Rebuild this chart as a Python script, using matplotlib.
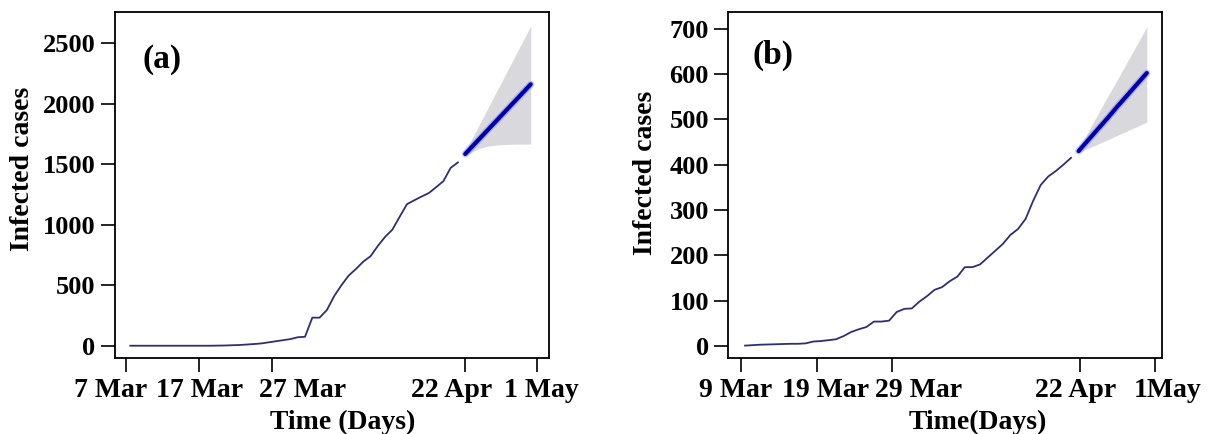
import numpy as np
import matplotlib
matplotlib.use('Agg')
from matplotlib import pyplot as plt

plt.rcParams['font.family'] = ['Liberation Serif', 'DejaVu Serif']
plt.rcParams['font.weight'] = 'bold'

# ---- panel (a) ----
obs_a = [0, 0, 0, 0, 0, 0, 0, 0, 0, 0, 0, 0, 1, 2, 4, 6, 10, 14, 19, 28,
         37, 46, 55, 70, 74, 232, 232, 295, 410, 500, 580, 635, 695, 740, 825, 900,
         960, 1066, 1170, 1202, 1233, 1262, 1310, 1360, 1470, 1515]
fc_a = [1585, 1649, 1713, 1777, 1841, 1905, 1969, 2033, 2097, 2161]
fc_a_hi = [1604, 1720, 1835, 1950, 2066, 2181, 2297, 2412, 2528, 2643]
fc_a_lo = [1563, 1605, 1632, 1648, 1657, 1662, 1665, 1667, 1667, 1667]
ticks_a = [0.4, 10.4, 20.4, 47.0, 56.9]
labels_a = ['7 Mar', '17 Mar', '27 Mar', '22 Apr', '1 May']
labelpos_a = [-1.66, 10.56, 24.6, 45.1, 57.4]   # labels sit off their ticks in the original
yticks_a = [0, 500, 1000, 1500, 2000, 2500]

# ---- panel (b) ----
obs_b = [1, 2, 3, 3.5, 4, 4.5, 5, 5, 6, 10, 11, 13, 15, 22, 31, 37, 42, 54, 54, 56,
         75, 82, 83, 98, 110, 124, 130, 143, 153, 174, 174, 180, 195, 210, 225, 245,
         258, 280, 320, 355, 374, 386, 400, 415]
fc_b = [430, 449, 468, 487, 506, 526, 545, 564, 583, 602]
fc_b_hi = [435, 465, 495, 525, 555, 584, 614, 644, 674, 704]
fc_b_lo = [426, 434, 441, 449, 456, 464, 471, 479, 486, 494]
ticks_b = [0.43, 10.43, 20.43, 45.2, 55.1]
labels_b = ['9 Mar', '19 Mar', '29 Mar', '22 Apr', '1May']
labelpos_b = [-0.18, 11.6, 23.9, 44.6, 56.8]
yticks_b = [0, 100, 200, 300, 400, 500, 600, 700]

fig = plt.figure(figsize=(12.18, 4.34), dpi=100)
ax1 = fig.add_axes([0.0944, 0.1744, 0.3563, 0.7973])
ax2 = fig.add_axes([0.5980, 0.1744, 0.3563, 0.7973])

def draw(ax, obs, fc, hi, lo, ticks, labels, labelpos, yticks, xlim, ylim, tag, tagpos, xlab, xlabx, ylabx, ylaby):
    n = len(obs)
    d_obs = np.arange(1, n + 1)
    d_fc = np.arange(n + 1, n + 1 + len(fc))
    ax.fill_between(d_fc, lo, hi, color='#d8d8dd', lw=0)
    ax.plot(d_obs, obs, color='#2e2e78', lw=1.3)
    ax.plot(d_fc, fc, color='#8a8aff', lw=5, alpha=0.5, solid_capstyle='round')
    ax.plot(d_fc, fc, color='#0000b0', lw=3, solid_capstyle='round')
    ax.set_xlim(xlim)
    ax.set_ylim(ylim)
    ax.set_xticks(ticks)
    ax.set_xticklabels([])
    ax.set_yticks(yticks)
    ax.tick_params(axis='both', direction='out', length=10, width=1.2, labelsize=19)
    ax.tick_params(axis='y', pad=4)
    for s in ax.spines.values():
        s.set_linewidth(1.3)
    trans = ax.get_xaxis_transform()
    for p, lab in zip(labelpos, labels):
        ax.text(p, -0.112, lab, transform=trans, ha='center', va='baseline',
                fontsize=20, fontweight='bold', clip_on=False)
    ax.text(tagpos[0], tagpos[1], tag, fontsize=24, fontweight='bold', va='center', ha='left')
    ax.set_xlabel(xlab, fontsize=20, fontweight='bold', va='baseline')
    ax.set_ylabel('Infected cases', fontsize=20, fontweight='bold', va='center')
    ax.xaxis.set_label_coords(xlabx, -0.203)
    ax.yaxis.set_label_coords(ylabx, ylaby)

draw(ax1, obs_a, fc_a, fc_a_hi, fc_a_lo, ticks_a, labels_a, labelpos_a, yticks_a,
     (-1.1, 58.5), (-104, 2756), '(a)', (2.7, 2362), 'Time (Days)', 0.525, -0.214, 0.547)
draw(ax2, obs_b, fc_b, fc_b_hi, fc_b_lo, ticks_b, labels_b, labelpos_b, yticks_b,
     (-1.2, 56.05), (-27, 736), '(b)', (2.0, 641), 'Time(Days)', 0.574, -0.192, 0.535)

plt.savefig('out.png', dpi=100)
